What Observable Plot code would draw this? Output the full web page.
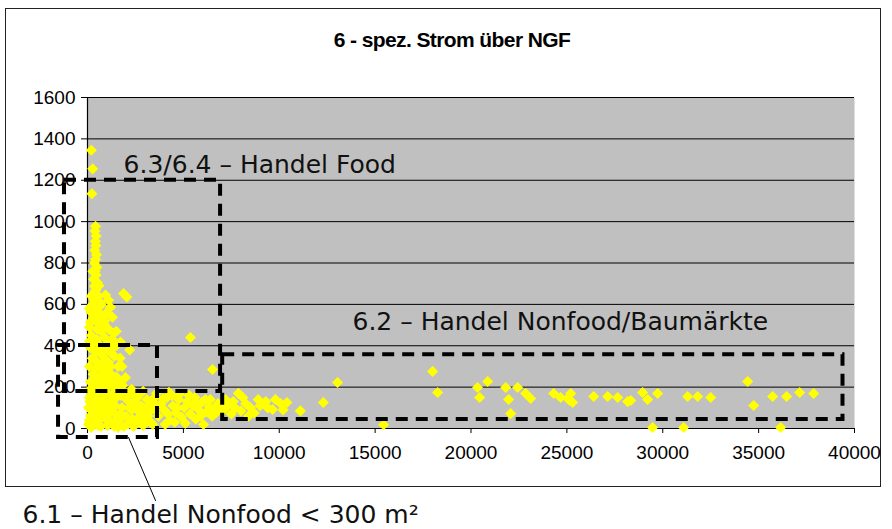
<!DOCTYPE html>
<html>
<head>
<meta charset="utf-8">
<script src="https://cdn.jsdelivr.net/npm/d3@7"></script>
<script src="https://cdn.jsdelivr.net/npm/@observablehq/plot@0.6"></script>
<style>
  html, body { margin: 0; padding: 0; background: #fff; }
  #wrap { position: relative; width: 892px; height: 529px; overflow: hidden; }
  #frame { position: absolute; left: 5px; top: 8px; width: 876px; height: 479px; border: 1.5px solid #222; box-sizing: border-box; }
  #title { position: absolute; left: 0; width: 904px; top: 28px; text-align: center;
           font: bold 21px "Liberation Sans", Arial, sans-serif; letter-spacing: -0.6px; color: #000; }
  #chart { position: absolute; left: 0; top: 0; }
  #chart g[aria-label="x-axis tick label"], #chart g[aria-label="y-axis tick label"] { font-size: 19px !important; }
</style>
</head>
<body>
<div id="wrap">
  <div id="frame"></div>
  <div id="title">6 - spez. Strom über NGF</div>
  <div id="chart"></div>
</div>
<script>
// Axis ticks
const xTicks = [0, 5000, 10000, 15000, 20000, 25000, 30000, 35000, 40000];
const yTicks = [0, 200, 400, 600, 800, 1000, 1200, 1400, 1600];

// [NGF m², spez. Strom] – tall column at very small areas
const columnPoints = [
  [200,1345],[270,1255],[230,1135],
  [420,978],[390,955],[450,930],[410,905],[440,885],[380,862],[470,840],[420,818],[360,800],
  [490,780],[400,760],[450,742],[320,722],[520,705],[370,688],[430,668],[290,650],[560,640],
  [340,622],[480,608],[250,598],[620,588],[390,574],[180,562],[540,552],[720,544],[300,534],
  [450,520],[150,512],[860,505],[640,494],[600,690],[280,760],[650,610],[200,640]
];

// medium values, small areas
const midPoints = [
  [1880,652],[2050,636],[940,645],[1200,586],[1300,538],[1360,460],[1720,418],[1200,368],
  [1100,320],[1980,246],[1830,208],[100,580],[300,560],[700,470],[500,480],[900,440],[200,450],
  [1050,410],[350,420],[650,400],[800,380],[150,390],[450,370],[1400,350],[250,340],[950,330],
  [600,310],[1600,300],[100,300],[400,290],[750,280],[1150,270],[300,262],[1500,250],[550,240],
  [850,230],[150,225],[1250,215],[650,205],[400,200],[1000,195],[2300,190],[200,180],[1700,178],
  [800,172],[5370,440],[6520,285],
  [600,560],[900,520],[1100,480],[1300,430],[500,430],[800,350],[1200,300],[700,260],[1000,240],
  [1400,200],[1600,230],[1800,300],[1300,390],[200,520],[100,420],[700,600],[1000,560],[1500,400],
  [1700,340],[2200,380],[100,490],[400,330],[900,290],[1300,250],[550,520],[1100,620],[1500,470]
];

// dense band of low values
const bandPoints = [
  [50,20],[150,60],[300,110],[100,150],[450,30],[600,90],[250,170],[800,140],[700,10],[950,50],
  [1100,120],[400,160],[1200,30],[1350,80],[550,130],[1500,150],[1650,40],[1800,100],[1000,170],
  [2000,60],[2150,130],[1900,10],[2300,90],[2450,160],[2600,40],[2800,110],[2950,70],[3100,140],
  [3300,30],[3450,95],[50,100],[200,5],[350,70],[500,185],[650,50],[850,95],[1050,15],[1250,160],
  [1450,110],[1600,5],[1750,160],[2100,20],[2250,175],[2500,120],[2700,165],[2900,15],[3200,80],
  [3500,150],[120,130],[750,180],[1150,70],[1550,190],[1950,150],[2350,45],[2750,60],[3050,100],
  [3400,20],[100,40],[300,140],[900,110],
  [250,90],[550,15],[800,55],[1000,85],[1300,140],[1700,70],[2200,100],[2600,150],[3000,40],
  [3300,120],[150,190],[700,110],[1400,10],[1800,185],[2400,10],[2900,180],[1250,100],[2050,165],
  [2650,85],[3150,60],[400,60],[1500,45],[2450,130],
  [3700,60],[3850,120],[4000,90],[4150,150],[4300,40],[4450,110],[4600,75],[4750,140],[4900,55],
  [5050,100],[5200,130],[5350,70],[5500,110],[5650,45],[5800,90],[5950,125],[6050,19],[6200,80],
  [6350,105],[6500,60],[6650,95],[6800,120],[4050,20],[4550,30],[5100,25],[3600,170],[4250,175],
  [4800,165],[5600,150],[6150,140],[6700,75],[3950,145],[3600,110],[4400,160],[4700,100],
  [5300,160],[5900,60],[6400,140],[4200,70],[5700,120],[6900,100],
  [7100,90],[7300,110],[7500,70],[7700,100],[7870,170],[8000,85],[8250,120],[8500,100],[8700,75],
  [9000,110],[9300,130],[9650,92],[10070,121],[10400,126],[11100,85],[12300,126],[13040,222],[15440,18],
  [7200,140],[7600,130],[8100,150],[8400,60],[8900,140],[9400,100],[9800,140],[10200,90]
];

// large areas
const largePoints = [
  [18000,276],[18260,174],[20340,198],[20450,150],[20870,227],[21810,198],[21960,140],[22070,72],
  [22430,198],[22850,169],[23110,145],[24310,169],[24670,150],[25040,145],[25200,169],[25300,126],
  [25150,135],[26400,155],[27130,155],[27650,150],[28170,130],[28330,135],[28950,174],[29210,140],
  [29730,169],[29470,5],[31300,155],[31820,155],[32500,150],[31090,5],[34430,227],[34740,111],
  [35730,155],[36460,155],[36150,5],[37140,174],[37870,169]
];

// dashed category boxes
const boxes = [
  {name: "6.3/6.4", x1: -1200, x2: 6940, y1: 179, y2: 1200},
  {name: "6.1", x1: -1510, x2: 3650, y1: -43, y2: 401},
  {name: "6.2", x1: 7050, x2: 39400, y1: 43, y2: 357}
];

// box labels
const labels = [
  {text: "6.3/6.4 – Handel Food", x: 1880, y: 1276},
  {text: "6.2 – Handel Nonfood/Baumärkte", x: 13820, y: 517},
  {text: "6.1 – Handel Nonfood < 300 m²", x: -3390, y: -416}
];

// leader line from the 6.1 label to its box
const leader = [{x: 2140, y: -43}, {x: 3547, y: -348}];

const points = [...columnPoints, ...midPoints, ...bandPoints, ...largePoints]
  .map(([ngf, strom]) => ({ngf, strom}));

const chart = Plot.plot({
  width: 892,
  height: 529,
  marginLeft: 87,
  marginRight: 38,
  marginTop: 97,
  marginBottom: 101,
  style: {fontFamily: "'Liberation Sans', Arial, sans-serif", fontSize: "19px", color: "#000", background: "transparent", overflow: "visible"},
  x: {domain: [0, 40000]},
  y: {domain: [0, 1600]},
  marks: [
    Plot.frame({fill: "#c0c0c0", stroke: "none"}),
    Plot.gridY(yTicks, {stroke: "#000", strokeOpacity: 1, strokeWidth: 1}),
    Plot.axisX(xTicks, {tickFormat: "d", tickSize: 5, tickPadding: 12, fontSize: 19, label: null, fill: "#000"}),
    Plot.axisY(yTicks, {tickFormat: "d", tickSize: 6, tickPadding: 6, fontSize: 19, label: null, fill: "#000"}),
    Plot.ruleX([0], {stroke: "#000", strokeWidth: 1.2}),
    Plot.ruleY([0], {stroke: "#000", strokeWidth: 1.2}),
    Plot.dot(points, {x: "ngf", y: "strom", symbol: "diamond2", r: 5, fill: "#ffff00", stroke: "none"}),
    Plot.rect(boxes, {x1: "x1", x2: "x2", y1: "y1", y2: "y2", fill: "none", stroke: "#000",
      strokeWidth: 4, strokeDasharray: "12,8"}),
    Plot.line(leader, {x: "x", y: "y", stroke: "#000", strokeWidth: 1}),
    Plot.text(labels, {x: "x", y: "y", text: "text", textAnchor: "start", lineAnchor: "middle",
      fontFamily: "'DejaVu Sans', Verdana, sans-serif", fontSize: 25, fill: "#111"})
  ]
});
document.getElementById("chart").appendChild(chart);
</script>
</body>
</html>
